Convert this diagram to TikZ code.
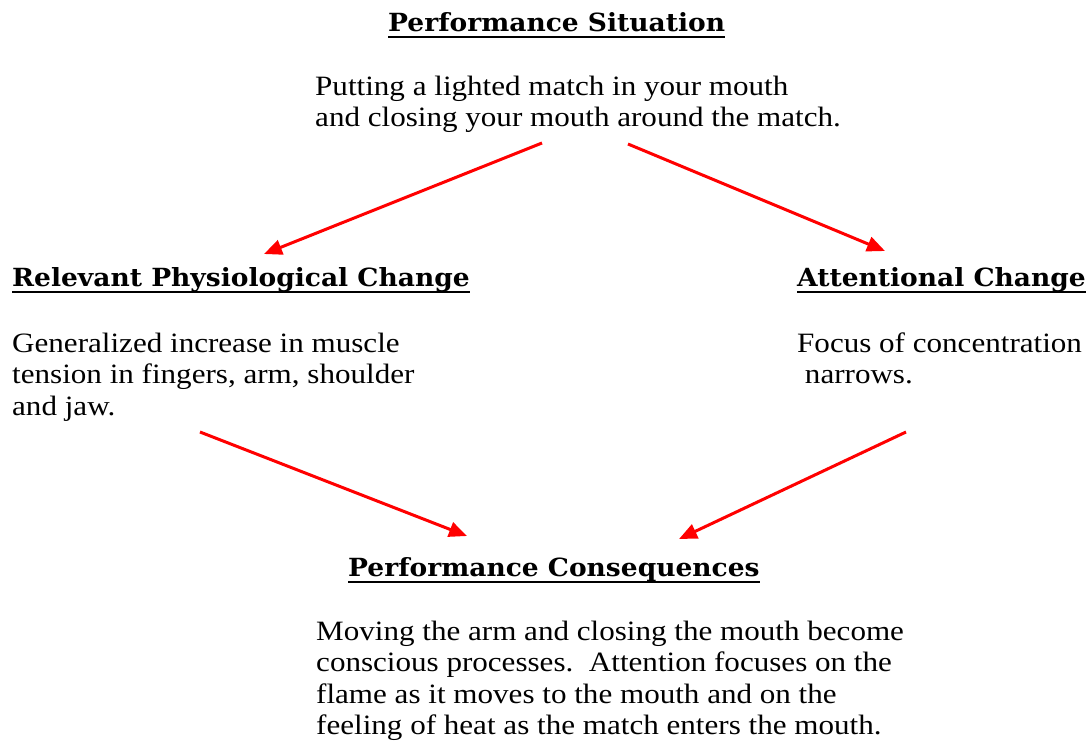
\documentclass[tikz,border=0pt]{standalone}
\usepackage{fontspec}
\usetikzlibrary{arrows.meta}
\newfontfamily\bodyf[FakeStretch=1.11]{Liberation Serif}
\newfontfamily\headf[FakeStretch=1.06]{DejaVu Serif}
\definecolor{arrowred}{RGB}{255,0,0}
\tikzset{
  head/.style={anchor=base west, inner sep=0pt, font=\headf\bfseries\fontsize{25}{29}\selectfont},
  body/.style={anchor=base west, inner sep=0pt, font=\bodyf\fontsize{28}{31.5}\selectfont},
  uline/.style={line width=2.5pt, black},
  flow/.style={draw=arrowred, line width=3pt, -{Triangle[length=18pt,width=15pt]}}
}
\newcommand{\blk}[1]{\begin{tabular}[t]{@{}l@{}}#1\end{tabular}}
\begin{document}
\begin{tikzpicture}[x=1pt,y=-1pt]
\useasboundingbox (0,0) rectangle (1088,740);
% headings
\node[head] (hsit) at (388,31) {Performance Situation};
\node[head] (hphy) at (12,286) {Relevant Physiological Change};
\node[head] (hatt) at (797,286) {Attentional Change};
\node[head] (hcon) at (348,576) {Performance Consequences};
\foreach \h in {hsit,hphy,hatt,hcon}
  \draw[uline] ([yshift=-6pt]\h.base west) -- ([yshift=-6pt]\h.base east);
% bodies
\node[body] (bsit) at (315,95) {\blk{Putting a lighted match in your mouth\\and closing your mouth around the match.}};
\node[body] (bphy) at (12,352) {\blk{Generalized increase in muscle\\tension in fingers, arm, shoulder\\and jaw.}};
\node[body] (batt) at (797,352) {\blk{Focus of concentration\\\ narrows.}};
\node[body] (bcon) at (316,640) {\blk{Moving the arm and closing the mouth become\\conscious processes.\ \ Attention focuses on the\\flame as it moves to the mouth and on the\\feeling of heat as the match enters the mouth.}};
% arrow end points
\coordinate (a1s) at (542,143);
\coordinate (a1e) at (264,254);
\coordinate (a2s) at (628,144);
\coordinate (a2e) at (885,251);
\coordinate (a3s) at (200,432);
\coordinate (a3e) at (467,536);
\coordinate (a4s) at (906,432);
\coordinate (a4e) at (679,539);
\draw[flow] (a1s) -- (a1e);
\draw[flow] (a2s) -- (a2e);
\draw[flow] (a3s) -- (a3e);
\draw[flow] (a4s) -- (a4e);
\end{tikzpicture}
\end{document}
